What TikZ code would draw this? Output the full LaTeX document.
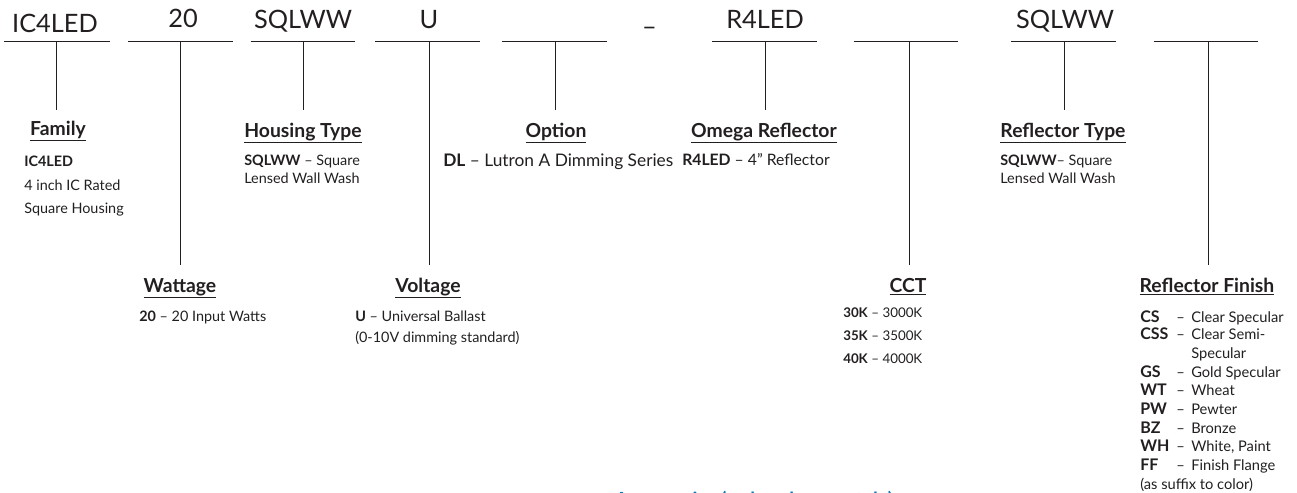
\documentclass[tikz,border=0pt]{standalone}
\usepackage{fontspec}
\setmainfont{Lato}
\definecolor{ink}{HTML}{231F20}
\definecolor{accblue}{HTML}{0079C1}
\newcommand{\ulhead}[1]{\underline{\textbf{#1}}}
\tikzset{
  rule/.style={draw=ink,line width=0.9pt},
  stem/.style={draw=ink,line width=0.75pt},
  code/.style={text=ink,font=\fontsize{19}{22}\selectfont,inner sep=0pt,anchor=base},
  head/.style={text=ink,font=\fontsize{14.5}{16}\selectfont,inner sep=0pt,anchor=base},
  desc/.style={text=ink,font=\fontsize{10.8}{13}\selectfont,inner sep=0pt,anchor=base west},
  finish/.style={text=ink,font=\fontsize{11}{13}\selectfont,inner sep=0pt,anchor=base west}
}
\newcommand{\fcode}[1]{{\fontsize{12}{13}\selectfont\textbf{#1}}}
\begin{document}
\begin{tikzpicture}[x=0.75pt,y=-0.75pt]
\useasboundingbox (0,0) rectangle (1297,493);
% rules
\coordinate (r1l) at (4,41.5);     \coordinate (r1r) at (110,41.5);
\coordinate (r2l) at (128,41.5);   \coordinate (r2r) at (233,41.5);
\coordinate (r3l) at (250.5,41.5); \coordinate (r3r) at (355,41.5);
\coordinate (r4l) at (375,41.5);   \coordinate (r4r) at (480,41.5);
\coordinate (r5l) at (502,41.5);   \coordinate (r5r) at (607,41.5);
\coordinate (r6l) at (712,41.5);   \coordinate (r6r) at (817,41.5);
\coordinate (r7l) at (853.5,41.5); \coordinate (r7r) at (958,41.5);
\coordinate (r8l) at (1011,41.5);  \coordinate (r8r) at (1116,41.5);
\coordinate (r9l) at (1153.5,41.5);\coordinate (r9r) at (1257.5,41.5);
\foreach \i in {1,...,9}{\draw[rule] (r\i l) -- (r\i r);}
% stems
\coordinate (t1) at (56.5,41.5); \coordinate (e1) at (56.5,110);
\coordinate (t2) at (180.5,41.5);\coordinate (e2) at (180.5,265);
\coordinate (t3) at (303.5,41.5);\coordinate (e3) at (303.5,110);
\coordinate (t4) at (429,41.5);  \coordinate (e4) at (429,265);
\coordinate (t5) at (555,41.5);  \coordinate (e5) at (555,110);
\coordinate (t6) at (765,41.5);  \coordinate (e6) at (765,110);
\coordinate (t7) at (909,41.5);  \coordinate (e7) at (909,265);
\coordinate (t8) at (1064,41.5); \coordinate (e8) at (1064,110);
\coordinate (t9) at (1208,41.5); \coordinate (e9) at (1208,265);
\foreach \i in {1,...,9}{\draw[stem] (t\i) -- (e\i);}
% code letters
\node[code] (c1) at (55,32) {IC4LED};
\node[code] (c2) at (183,27) {20};
\node[code] (c3) at (303,28) {SQLWW};
\node[code] (c4) at (429,28) {U};
\node[code] (cdash) at (649.5,35) {--};
\node[code] (c6) at (765,28) {R4LED};
\node[code] (c8) at (1065,28) {SQLWW};
% headings
\node[head] (h1) at (58,135) {\ulhead{Family}};
\node[head] (h3) at (303,137) {\ulhead{Housing Type}};
\node[head] (h5) at (556,137) {\ulhead{Option}};
\node[head] (h6) at (764,137) {\ulhead{Omega Reflector}};
\node[head] (h8) at (1063,137) {\ulhead{Reflector Type}};
\node[head] (h2) at (180,292) {\ulhead{Wattage}};
\node[head] (h4) at (428,292) {\ulhead{Voltage}};
\node[head] (h7) at (908,292) {\ulhead{CCT}};
\node[head] (h9) at (1207,292) {\ulhead{Reflector Finish}};
% descriptions
\node[desc] (d1a) at (24,166) {\textbf{IC4LED}};
\node[desc] (d1b) at (24,190) {4 inch IC Rated};
\node[desc] (d1c) at (24,213) {Square Housing};
\node[desc] (d3a) at (244,165) {\textbf{SQLWW} -- Square};
\node[desc] (d3b) at (244,183) {Lensed Wall Wash};
\node[desc,font=\fontsize{13}{16}\selectfont] (d5) at (443,166) {\textbf{DL} -- Lutron A Dimming Series};
\node[desc,font=\fontsize{11.8}{14}\selectfont] (d6) at (682,165) {\textbf{R4LED} -- 4" Reflector};
\node[desc] (d8a) at (1000,165) {\textbf{SQLWW}-- Square};
\node[desc] (d8b) at (1000,183) {Lensed Wall Wash};
\node[desc] (d2) at (139,321) {\textbf{20} -- 20 Input Watts};
\node[desc] (d4a) at (355,321) {\textbf{U} -- Universal Ballast};
\node[desc] (d4b) at (355,342) {(0-10V dimming standard)};
\node[desc,font=\fontsize{10}{12}\selectfont] (d7a) at (843,317) {\textbf{30K} -- 3000K};
\node[desc,font=\fontsize{10}{12}\selectfont] (d7b) at (843,340) {\textbf{35K} -- 3500K};
\node[desc,font=\fontsize{10}{12}\selectfont] (d7c) at (843,363) {\textbf{40K} -- 4000K};
% finish list
\node[finish] (f1) at (1140,322) {\fcode{CS}};
\node[finish] (f1b) at (1176,322) {--};
\node[finish] (f1c) at (1191,322) {Clear Specular};
\node[finish] (f2) at (1140,339) {\fcode{CSS}};
\node[finish] (f2b) at (1176,339) {--};
\node[finish] (f2c) at (1191,339) {Clear Semi-};
\node[finish] (f2d) at (1191,358) {Specular};
\node[finish] (f3) at (1140,377) {\fcode{GS}};
\node[finish] (f3b) at (1176,377) {--};
\node[finish] (f3c) at (1191,377) {Gold Specular};
\node[finish] (f4) at (1140,395) {\fcode{WT}};
\node[finish] (f4b) at (1176,395) {--};
\node[finish] (f4c) at (1191,395) {Wheat};
\node[finish] (f5) at (1140,414) {\fcode{PW}};
\node[finish] (f5b) at (1176,414) {--};
\node[finish] (f5c) at (1191,414) {Pewter};
\node[finish] (f6) at (1140,433) {\fcode{BZ}};
\node[finish] (f6b) at (1176,433) {--};
\node[finish] (f6c) at (1191,433) {Bronze};
\node[finish] (f7) at (1140,451) {\fcode{WH}};
\node[finish] (f7b) at (1176,451) {--};
\node[finish] (f7c) at (1191,451) {White, Paint};
\node[finish] (f8) at (1140,470) {\fcode{FF}};
\node[finish] (f8b) at (1176,470) {--};
\node[finish] (f8c) at (1191,470) {Finish Flange};
\node[finish] (f9) at (1140,489) {(as suffix to color)};
% bottom text, cut by the picture's lower edge as in the reference
\begin{scope}
\clip (0,0) rectangle (1297,493);
\node[text=accblue,font=\fontsize{14.6}{18}\selectfont\bfseries,inner sep=0pt,anchor=base] (acc) at (754,506) {Accessories (ordered separately)};
\end{scope}
\end{tikzpicture}
\end{document}
